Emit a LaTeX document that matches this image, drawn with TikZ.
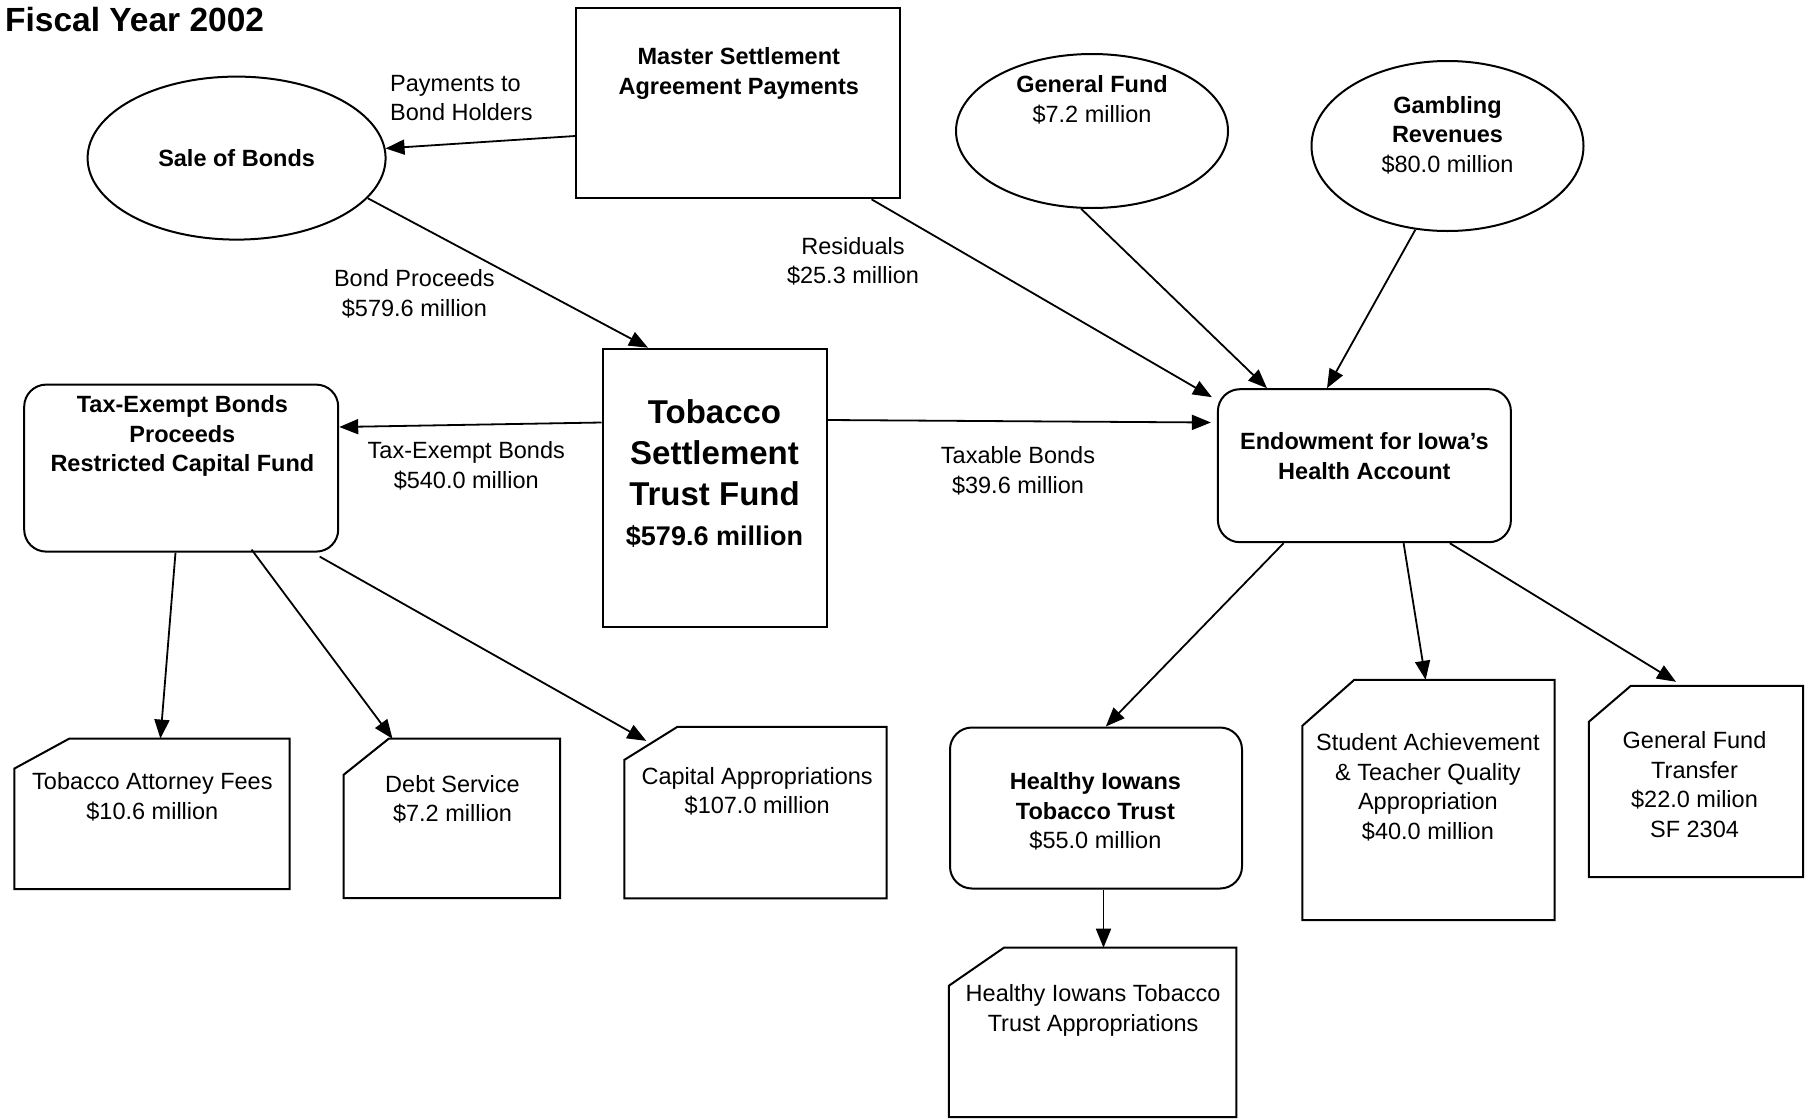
\documentclass[tikz,border=0pt]{standalone}
\usepackage{fontspec}
\setmainfont{Liberation Sans}
\usetikzlibrary{arrows.meta,shapes.geometric,calc}
\newcommand{\cardoutline}[3]{%
  \draw[cardline] ($(#1.north west)+(0,#3)$) -- ($(#1.north west)+(#2,0)$) -- (#1.north east) -- (#1.south east) -- (#1.south west) -- cycle;}
\begin{document}
\begin{tikzpicture}[x=1pt,y=-1pt,
  lbl/.style={font=\fontsize{23.5}{29.5}\selectfont, align=center, inner sep=0pt},
  blbl/.style={font=\fontsize{23.5}{29.5}\selectfont\bfseries, align=center, inner sep=0pt},
  shp/.style={draw, line width=2pt, inner sep=0pt},
  boxn/.style={shp, rectangle},
  rboxn/.style={shp, rectangle, rounded corners=22pt},
  elln/.style={shp, ellipse},
  cardn/.style={rectangle, inner sep=0pt},
  cardline/.style={line width=2pt, line join=miter},
  arr/.style={line width=1.8pt, -{Triangle[length=19pt,width=15pt]}},
]
\useasboundingbox (0,0) rectangle (1810,1119);

% title
\node[font=\fontsize{33.5}{38}\selectfont\bfseries, anchor=west, inner sep=0pt] (title) at (5,20) {Fiscal Year 2002};

% top row
\node[elln, minimum width=298pt, minimum height=163pt, font=\fontsize{23.5}{29.5}\selectfont\bfseries] (sob) at (236.6,158.1) {Sale of Bonds};
\node[boxn, minimum width=324pt, minimum height=190pt] (msa) at (738.2,103.3) {};
\node[blbl] (msat) at (738.8,73.3) {Master Settlement\\Agreement Payments};
\node[elln, minimum width=272pt, minimum height=154pt] (gf) at (1092,131) {};
\node[lbl] (gft1) at (1092,99.9) {{\bfseries General Fund}\\\$7.2 million};
\node[elln, minimum width=272pt, minimum height=170pt] (gam) at (1447.5,146) {};
\node[lbl] (gamt) at (1447.5,135) {{\bfseries Gambling}\\{\bfseries Revenues}\\\$80.0 million};

% middle row
\node[rboxn, minimum width=314pt, minimum height=167pt] (teb) at (181.2,468.1) {};
\node[blbl] (tebt) at (182.4,436.3) {Tax-Exempt Bonds\\Proceeds\\Restricted Capital Fund};
\node[boxn, minimum width=224pt, minimum height=278pt] (tob) at (714.5,487.7) {};
\node[font=\fontsize{33}{41}\selectfont\bfseries, align=center, inner sep=0pt] (tobt) at (714.5,452.5) {Tobacco\\Settlement\\Trust Fund};
\node[font=\fontsize{27}{32}\selectfont\bfseries, inner sep=0pt] (tobv) at (714.5,536.8) {\$579.6 million};
\node[rboxn, minimum width=293pt, minimum height=153pt] (endow) at (1364.4,465.7) {};
\node[blbl] (endowt) at (1364.4,456) {Endowment for Iowa\symbol{"27}s\\Health Account};

% connector labels
\node[lbl, align=left, anchor=west] (payl) at (390,98.1) {Payments to\\Bond Holders};
\node[lbl] (bpl) at (414.4,293.7) {Bond Proceeds\\\$579.6 million};
\node[lbl] (resl) at (853,261.5) {Residuals\\\$25.3 million};
\node[lbl] (tebl) at (466.3,465.7) {Tax-Exempt Bonds\\\$540.0 million};
\node[lbl] (taxl) at (1018,471) {Taxable Bonds\\\$39.6 million};

% bottom cards
\node[cardn, minimum width=275pt, minimum height=150pt] (taf) at (152,813.8) {};
\cardoutline{taf}{55}{30}
\node[lbl] (taft) at (152.4,797) {Tobacco Attorney Fees\\\$10.6 million};
\node[cardn, minimum width=216pt, minimum height=159pt] (debt) at (451.9,818.4) {};
\cardoutline{debt}{45}{36}
\node[lbl] (debtt) at (452.5,799.4) {Debt Service\\\$7.2 million};
\node[cardn, minimum width=262pt, minimum height=171pt] (cap) at (755.5,812.6) {};
\cardoutline{cap}{53}{33}
\node[lbl] (capt) at (757.2,791.3) {Capital Appropriations\\\$107.0 million};
\node[rboxn, minimum width=292pt, minimum height=161pt] (hit) at (1096,808) {};
\node[lbl] (hitt) at (1095.4,811.5) {{\bfseries Healthy Iowans}\\{\bfseries Tobacco Trust}\\\$55.0 million};
\node[cardn, minimum width=287pt, minimum height=169pt] (hita) at (1092.6,1032.4) {};
\cardoutline{hita}{55}{38}
\node[lbl] (hitat) at (1093.1,1010.6) {Healthy Iowans Tobacco\\Trust Appropriations};
\node[cardn, minimum width=252pt, minimum height=240pt] (sa) at (1428.5,800) {};
\cardoutline{sa}{52}{46}
\node[lbl] (sat) at (1427.9,787.3) {Student Achievement\\\& Teacher Quality\\Appropriation\\\$40.0 million};
\node[cardn, minimum width=214pt, minimum height=191pt] (gftr) at (1696,781.5) {};
\cardoutline{gftr}{42}{36}
\node[lbl] (gftrt) at (1694.5,784.4) {General Fund\\Transfer\\\$22.0 milion\\SF 2304};

% connectors
\draw[arr] (msa.west |- 0,136) -- (sob);
\draw[arr] (sob.-17) -- (tob.north -| 648,0);
\draw[arr] (msa.south -| 871.5,0) -- ($(endow.north west)+(-5,9)$);
\draw[arr] (gf.-98) -- (endow.north -| 1267,0);
\draw[arr] (gam.-111) -- (endow.north -| 1327,0);
\draw[arr] (tob.west |- 0,422.5) -- (teb.east |- 0,427);
\draw[arr] (tob.east |- 0,420) -- ($(endow.west |- 0,422.5)+(-6,0)$);
\draw[arr] (teb.south -| 175.5,0) -- (taf.north -| 160.4,0);
\draw[arr] ($(teb.south -| 251.6,0)+(0,-3)$) -- (debt.north -| 392.5,0);
\draw[arr] ($(teb.south -| 319.7,0)+(0,4)$) -- ($(cap.north west)+(22,14)$);
\draw[arr] (endow.south -| 1283.6,0) -- (hit.north -| 1105.8,0);
\draw[arr] (endow.south -| 1403.6,0) -- (sa.north -| 1425.6,0);
\draw[arr] (endow.south -| 1449.8,0) -- ($(gftr.north -| 1676,0)+(0,-4)$);
\draw[arr] (hit.south -| 1103.5,0) -- (hita.north -| 1103.5,0);
\end{tikzpicture}
\end{document}
